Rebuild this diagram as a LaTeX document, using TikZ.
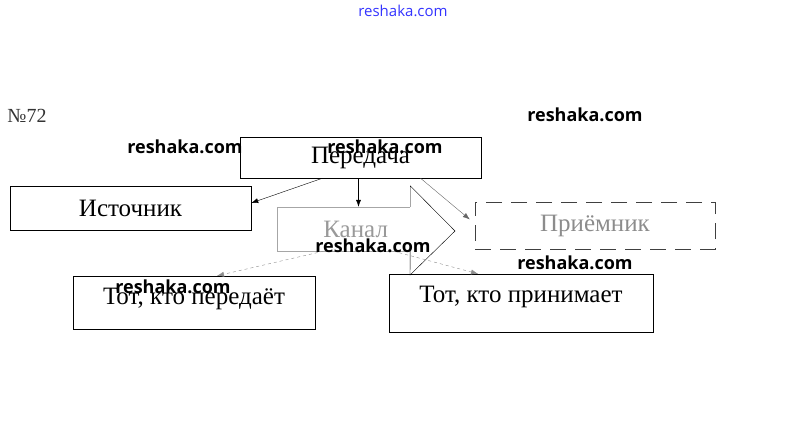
\documentclass[tikz,border=0pt]{standalone}
\usepackage{fontspec}
\setmainfont{Liberation Serif}
\newfontfamily\wmfont{Open Sans}
\usetikzlibrary{arrows.meta}

\begin{document}
\begin{tikzpicture}[x=1pt, y=-1pt,
    box/.style={draw, inner sep=0pt, font=\fontsize{25}{25}\selectfont},
    wm/.style={font=\wmfont\bfseries\fontsize{18}{18}\selectfont}]

\useasboundingbox (0,0) rectangle (806,439);

\node[font=\fontsize{20}{20}\selectfont, text=black!80] (num) at (27,116) {№72};

\begin{scope}
    \node[box, minimum width=241pt, minimum height=41pt] (pered) at (360.5,157.5) {Передача};
    \node[box, minimum width=241pt, minimum height=44pt] (ist) at (130.5,208) {Источник};
    \node[box, draw=none, minimum width=133pt, minimum height=44pt, text width=89pt, align=right, text=black!40] (kanal) at (343.5,229) {Канал};
    \node[box, minimum width=240pt, minimum height=47pt, draw=black!75, dash pattern=on 16pt off 9pt, text=black!45] (prm) at (595,225.5) {Приёмник};
    \node[box, minimum width=242pt, minimum height=53pt, text depth=12pt] (tkp) at (194,302.5) {Тот, кто передаёт};
    \node[box, minimum width=264pt, minimum height=58pt, text depth=17pt] (tkpr) at (521,303) {Тот, кто принимает};
\end{scope}

\draw[black!35] (kanal.north east) -- (kanal.north west) -- (kanal.south west) -- (kanal.south east);
\draw (kanal.north east) -- ++(0,-21) -- (455,231) -- (410,275) -- (kanal.south east);

\begin{scope}[-{Latex[length=7pt,width=5pt]}]
    \draw ([xshift=-38pt]pered.south) -- ([yshift=5pt]ist.east);
    \draw ([xshift=-2pt]pered.south) -- ([xshift=-2pt]pered.south |- kanal.north);
    \draw[black!60] ([xshift=60pt]pered.south) -- ([xshift=-5pt,yshift=6pt]prm.west);
    \draw[black!45, dashed] ([xshift=-20pt]kanal.south) -- ([xshift=23pt]tkp.north);
    \draw[black!45, dashed] ([xshift=50pt]kanal.south) -- ([xshift=-43pt]tkpr.north);
\end{scope}

\node[font=\wmfont\fontsize{15}{15}\selectfont, text=blue!80] (wm1) at (403,11) {reshaka.com};
\node[wm] (wm2) at (185,147) {reshaka.com};
\node[wm] (wm3) at (385,147) {reshaka.com};
\node[wm] (wm4) at (585,115) {reshaka.com};
\node[wm] (wm5) at (373,246) {reshaka.com};
\node[wm] (wm6) at (575,263) {reshaka.com};
\node[wm] (wm7) at (173,287) {reshaka.com};

\end{tikzpicture}
\end{document}
